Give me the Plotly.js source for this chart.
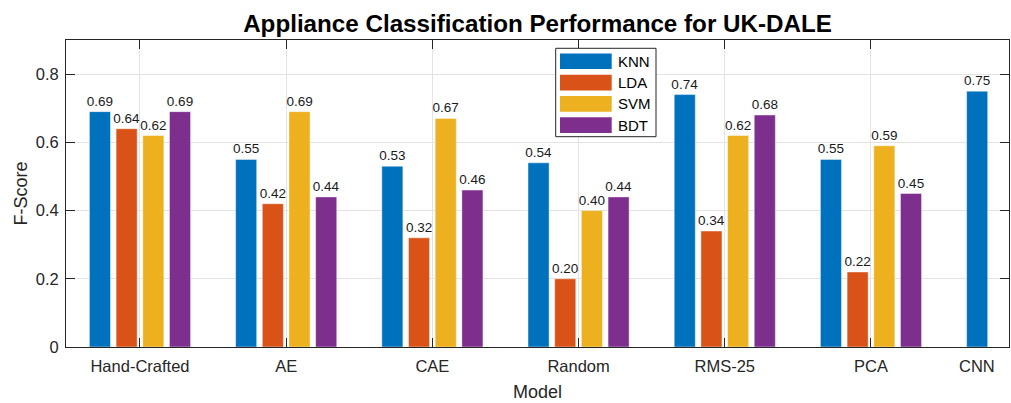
<!DOCTYPE html>
<html>
<head>
<meta charset="utf-8">
<script src="https://cdn.plot.ly/plotly-3.0.1.min.js"></script>
<style>html,body{margin:0;padding:0;background:#fff;}#chart{width:1011px;height:403px;}</style>
</head>
<body>
<div id="chart"></div>
<script>
// ---- data ----
const categories = ['Hand-Crafted', 'AE', 'CAE', 'Random', 'RMS-25', 'PCA', 'CNN'];
const seriesNames = ['KNN', 'LDA', 'SVM', 'BDT'];
const knn = [0.69, 0.55, 0.53, 0.54, 0.74, 0.55, 0.75];
const lda = [0.64, 0.42, 0.32, 0.20, 0.34, 0.22, null];
const svm = [0.62, 0.69, 0.67, 0.40, 0.62, 0.59, null];
const bdt = [0.69, 0.44, 0.46, 0.44, 0.68, 0.45, null];
const yTickVals = [0, 0.2, 0.4, 0.6, 0.8];

// ---- style ----
const colors = ['#0072BD', '#D95319', '#EDB120', '#7E2F8E'];
const FONT = 'Liberation Sans, Arial, Helvetica, sans-serif';
const AX = '#262626';
const BARGAP = 0.27;

const W = 1011, H = 403;
const M = {l: 66, r: 2, t: 40, b: 56};
const plotW = W - M.l - M.r, plotH = H - M.t - M.b;
const px2x = p => (p - M.l) / plotW;
const px2y = p => (H - M.b - p) / plotH;

const xpos = categories.map((c, i) => i + 1);
const allSeries = [knn, lda, svm, bdt];

const traces = allSeries.map((vals, k) => ({
  type: 'bar',
  name: seriesNames[k],
  x: xpos,
  y: vals,
  marker: {color: colors[k], line: {color: 'rgba(255,255,255,0.55)', width: 0.8}},
  text: vals.map(v => v == null ? '' : v.toFixed(2)),
  textposition: 'outside',
  constraintext: 'none',
  textfont: {family: FONT, size: 13.5, color: '#1a1a1a'},
  cliponaxis: false,
  showlegend: false,
  hoverinfo: 'x+y'
}));

// categories with a full group get an axis tick; the last (single bar) gets a label under its bar
const fullGroups = categories.filter((c, i) => lda[i] != null);
const lastIdx = categories.length - 1;
const knnOffset = 1.5 * (1 - BARGAP) / 4;

const annotations = [{
  xref: 'x', yref: 'paper', x: xpos[lastIdx] - knnOffset, y: 0,
  yanchor: 'top', xanchor: 'center', yshift: -8,
  text: categories[lastIdx], showarrow: false,
  font: {family: FONT, size: 16.5, color: AX}
}];

// manual legend
const shapes = [];
const legL = 555.7, legR = 656, legT = 48.3, legB = 136.7;
shapes.push({type: 'rect', xref: 'paper', yref: 'paper',
  x0: px2x(legL), x1: px2x(legR), y0: px2y(legB), y1: px2y(legT),
  line: {color: AX, width: 1}, fillcolor: '#ffffff', layer: 'above'});
const rowC = [61.2, 82.6, 103.9, 125.1];
seriesNames.forEach((n, k) => {
  shapes.push({type: 'rect', xref: 'paper', yref: 'paper',
    x0: px2x(560), x1: px2x(611.7), y0: px2y(rowC[k] + 7.8), y1: px2y(rowC[k] - 7.8),
    line: {width: 0}, fillcolor: colors[k], layer: 'above'});
  annotations.push({xref: 'paper', yref: 'paper', x: px2x(615.5), y: px2y(rowC[k]),
    xanchor: 'left', yanchor: 'middle', text: n, showarrow: false,
    font: {family: FONT, size: 15, color: '#000'}});
});

const layout = {
  width: W, height: H,
  margin: M,
  paper_bgcolor: '#fff', plot_bgcolor: '#fff',
  barmode: 'group', bargap: BARGAP, bargroupgap: 0.21,
  font: {family: FONT, color: AX},
  title: {text: '<b>Appliance Classification Performance for UK-DALE</b>',
    font: {family: FONT, size: 24.2, color: '#000'},
    x: 0.5, xref: 'paper', y: 1, yref: 'paper', yanchor: 'bottom', pad: {b: 8}},
  xaxis: {
    range: [0.494, 0.494 + plotW / 146.2],
    tickmode: 'array', tickvals: fullGroups.map((c, i) => xpos[i]), ticktext: fullGroups,
    ticks: 'inside', ticklen: 9, tickcolor: AX, tickwidth: 1,
    showline: true, linecolor: AX, linewidth: 1, mirror: 'ticks',
    showgrid: true, gridcolor: '#e3e3e3', gridwidth: 1, zeroline: false,
    tickfont: {family: FONT, size: 16.5, color: AX}, ticklabelstandoff: 4,
    title: {text: 'Model', font: {family: FONT, size: 18, color: AX}, standoff: 11},
    automargin: false, fixedrange: true
  },
  yaxis: {
    range: [0, 0.9],
    tickmode: 'array', tickvals: yTickVals, ticktext: yTickVals.map(v => String(v)),
    ticks: 'inside', ticklen: 9, tickcolor: AX, tickwidth: 1,
    showline: true, linecolor: AX, linewidth: 1, mirror: 'ticks',
    showgrid: true, gridcolor: '#e3e3e3', gridwidth: 1, zeroline: false,
    tickfont: {family: FONT, size: 16.5, color: AX}, ticklabelstandoff: 3,
    title: {text: 'F-Score', font: {family: FONT, size: 18, color: AX}, standoff: 3},
    automargin: false, fixedrange: true
  },
  shapes: shapes,
  annotations: annotations,
  showlegend: false
};

Plotly.newPlot('chart', traces, layout, {displayModeBar: false, staticPlot: true});
</script>
</body>
</html>
